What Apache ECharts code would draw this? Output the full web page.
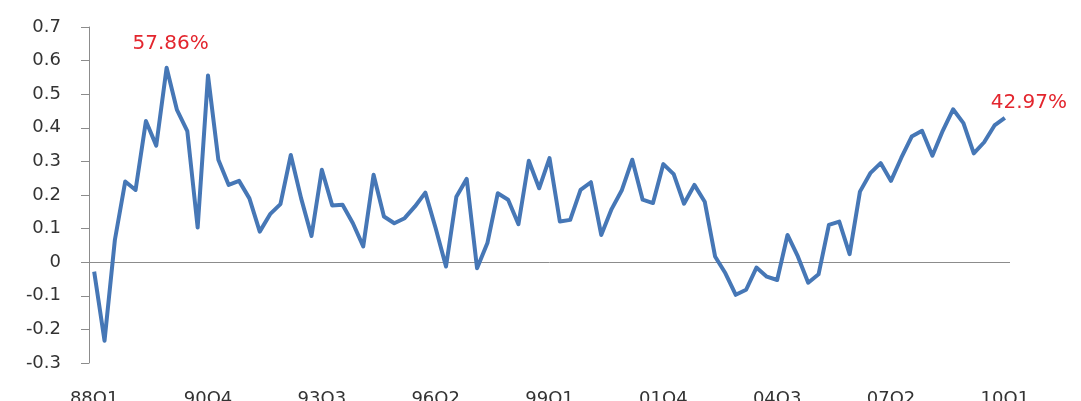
<!DOCTYPE html>
<html>
<head>
<meta charset="utf-8">
<script src="https://cdn.jsdelivr.net/npm/echarts@6/dist/echarts.min.js"></script>
<style>
html,body{margin:0;padding:0;background:#fff;}
#c{width:1081px;height:401px;}
</style>
</head>
<body>
<div id="c"></div>
<script>
// Quarterly categories 88Q1 .. 10Q1
const categories = (function(){
  const out = [];
  for (let y = 1988; y <= 2010; y++) {
    for (let q = 1; q <= 4; q++) {
      if (y === 2010 && q > 1) break;
      out.push(String(y % 100).padStart(2, '0') + 'Q' + q);
    }
  }
  return out;
})();

const values = [
  -0.028, -0.234, 0.066, 0.240, 0.215, 0.420, 0.347, 0.5786, 0.453, 0.390,
  0.103, 0.556, 0.305, 0.230, 0.242, 0.190, 0.091, 0.143, 0.173, 0.319,
  0.190, 0.078, 0.275, 0.169, 0.171, 0.116, 0.047, 0.260, 0.136, 0.116,
  0.131, 0.166, 0.207, 0.101, -0.013, 0.195, 0.248, -0.018, 0.057, 0.205,
  0.186, 0.113, 0.302, 0.220, 0.310, 0.121, 0.126, 0.215, 0.238, 0.081,
  0.158, 0.215, 0.305, 0.186, 0.176, 0.292, 0.262, 0.174, 0.230, 0.180,
  0.017, -0.033, -0.097, -0.082, -0.016, -0.043, -0.053, 0.081, 0.017, -0.061,
  -0.036, 0.111, 0.121, 0.024, 0.210, 0.265, 0.295, 0.242, 0.311, 0.374,
  0.391, 0.317, 0.391, 0.455, 0.414, 0.324, 0.357, 0.407, 0.4297
];

const annotationIndex = [7, 88];
const annotationText = ['57.86%', '42.97%'];

const yTicks = { min: -0.3, max: 0.7, interval: 0.1 };

const chart = echarts.init(document.getElementById('c'), null, { renderer: 'canvas' });
chart.setOption({
  animation: false,
  backgroundColor: '#ffffff',
  grid: { left: 89, right: 71, top: 27, bottom: 38, containLabel: false, outerBoundsMode: 'none' },
  xAxis: {
    type: 'category',
    data: categories,
    boundaryGap: true,
    axisLine: { show: false, onZero: false },
    axisTick: { show: false },
    axisLabel: {
      interval: 10,
      margin: 27,
      color: '#333333',
      fontFamily: 'DejaVu Sans',
      fontSize: 18
    },
    splitLine: { show: false }
  },
  yAxis: {
    type: 'value',
    min: yTicks.min,
    max: yTicks.max,
    interval: yTicks.interval,
    axisLine: { show: true, lineStyle: { color: '#8c8c8c', width: 1 } },
    axisTick: { show: true, inside: false, length: 8, lineStyle: { color: '#8c8c8c' } },
    axisLabel: {
      margin: 28,
      color: '#333333',
      fontFamily: 'DejaVu Sans',
      fontSize: 18,
      formatter: v => (Math.abs(v) < 1e-9 ? '0' : (Math.round(v * 10) / 10).toFixed(1))
    },
    splitLine: { show: false }
  },
  series: [{
    type: 'line',
    data: values,
    symbol: 'none',
    smooth: false,
    lineStyle: { color: '#4677B6', width: 4, join: 'round' },
    itemStyle: { color: '#4677B6' },
    markLine: {
      silent: true,
      symbol: ['none', 'none'],
      label: { show: false },
      lineStyle: { color: '#8c8c8c', width: 1, type: 'solid' },
      data: [{ yAxis: 0 }],
      z: 1
    },
    markPoint: {
      silent: true,
      symbol: 'circle',
      symbolSize: 1,
      itemStyle: { color: 'rgba(0,0,0,0)' },
      data: annotationIndex.map((idx, k) => ({
        coord: [idx, values[idx]],
        label: {
          show: true,
          formatter: annotationText[k],
          position: 'inside',
          offset: k === 0 ? [4, -24] : [24, -15],
          color: '#E3262E',
          fontFamily: 'DejaVu Sans',
          fontSize: 20
        }
      }))
    },
    z: 3
  }]
});
</script>
</body>
</html>
